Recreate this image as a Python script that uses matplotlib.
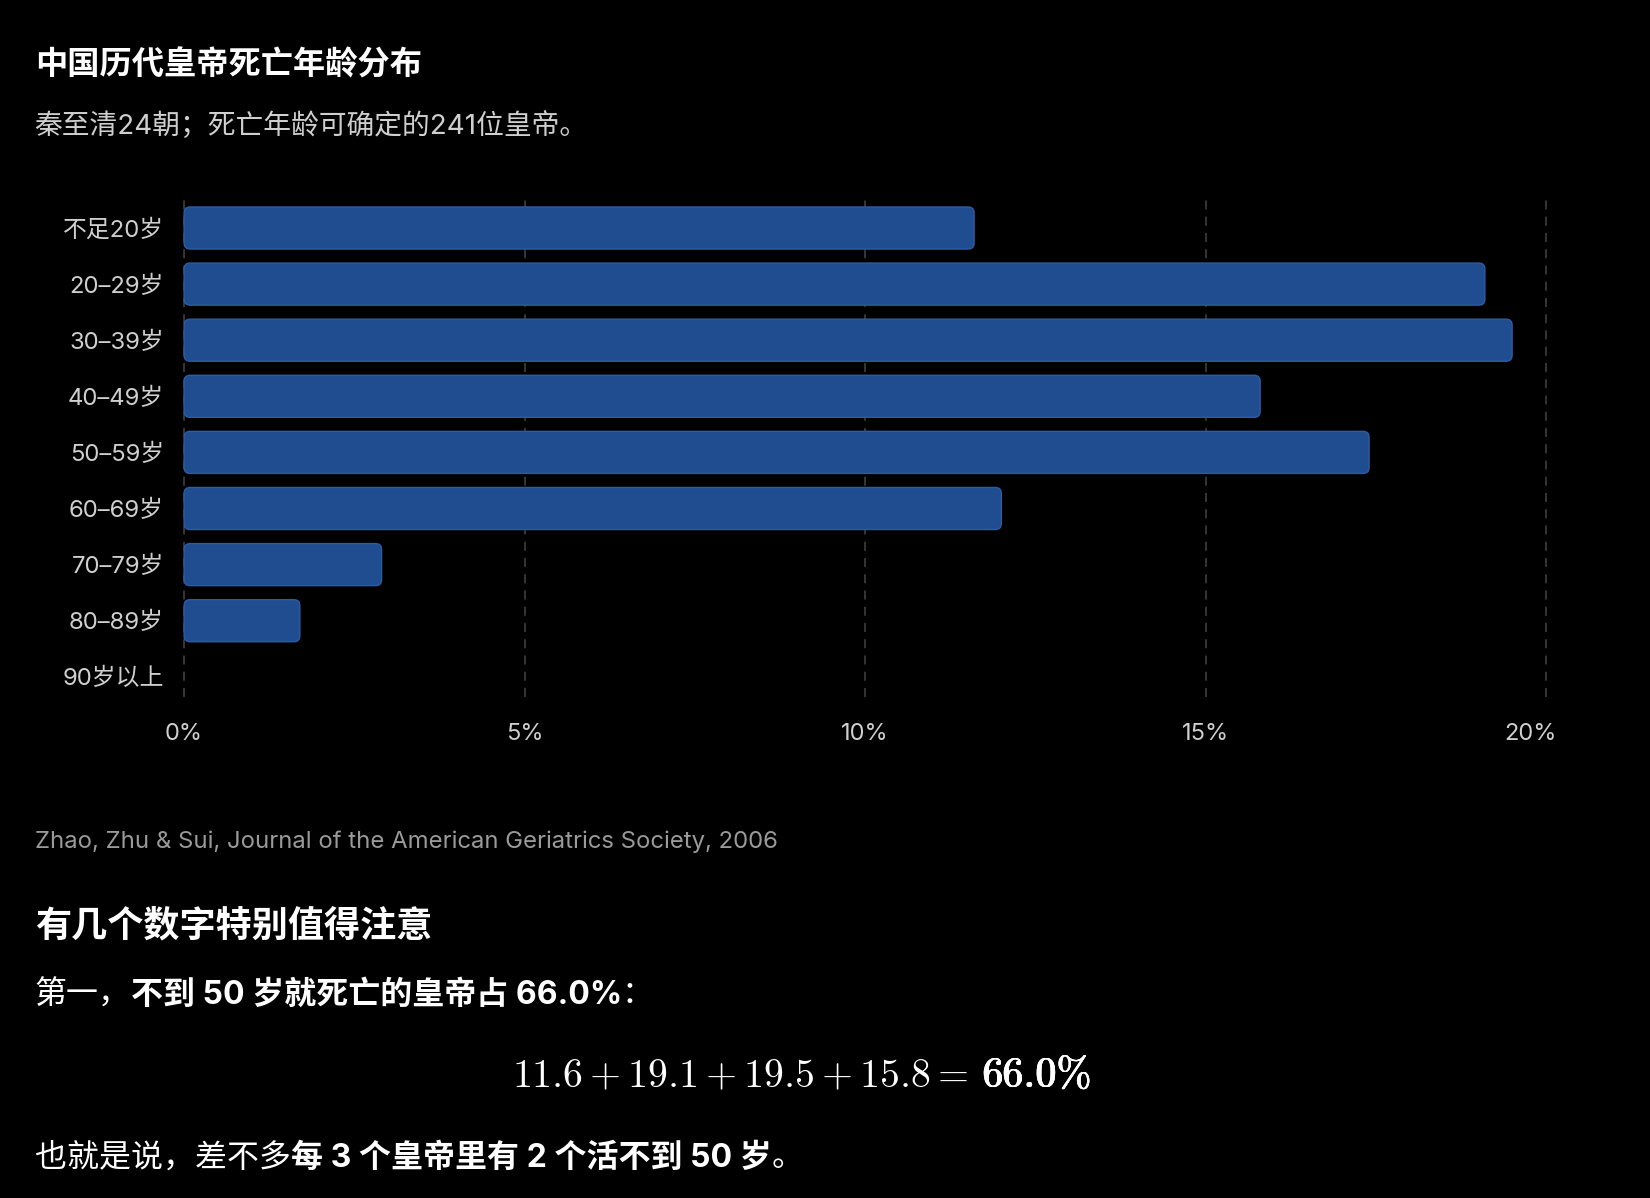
import matplotlib
matplotlib.use("Agg")
import matplotlib.pyplot as plt
from matplotlib.patches import FancyBboxPatch
from matplotlib.text import Annotation
from matplotlib.transforms import ScaledTranslation

plt.rcParams['font.family'] = ['Inter', 'Noto Sans CJK SC', 'DejaVu Sans']
plt.rcParams['mathtext.fontset'] = 'cm'

# data
age_groups = ['不足20岁', '20–29岁', '30–39岁', '40–49岁', '50–59岁',
              '60–69岁', '70–79岁', '80–89岁', '90岁以上']
shares = [11.6, 19.1, 19.5, 15.8, 17.4, 12.0, 2.9, 1.7, 0.0]
x_ticks = [0, 5, 10, 15, 20]
x_tick_labels = ['0%', '5%', '10%', '15%', '20%']

title = '中国历代皇帝死亡年龄分布'
subtitle = '秦至清24朝；死亡年龄可确定的241位皇帝。'
source = 'Zhao, Zhu & Sui, Journal of the American Geriatrics Society, 2006'
heading = '有几个数字特别值得注意'
line1 = [('第一，', 'normal'), ('不到 50 岁就死亡的皇帝占 66.0%', 'bold'), ('：', 'normal')]
eq_left = r'$11.6 + 19.1 + 19.5 + 15.8 =$'
eq_right = r'$\mathbf{66.0\%}$'
line2 = [('也就是说，差不多', 'normal'), ('每 3 个皇帝里有 2 个活不到 50 岁', 'bold'), ('。', 'normal')]

bg = '#000000'
bar_color = '#1f4d8f'
bar_edge = '#2c5ca3'

fig = plt.figure(figsize=(16.5, 11.98), dpi=100, facecolor=bg)
ax = fig.add_axes([0.1095, 0.4182, 0.8317, 0.4149], facecolor=bg)

y = list(range(len(age_groups)))
bars = ax.barh(y, shares, height=0.75, color=bar_color)
ax.set_xlim(-0.05, 20.1)
ax.set_ylim(8.36, -0.5)

# swap the plain bars for rounded ones (corner ~6px)
aspect = 68.1 / 56.1
for b in bars:
    x0, y0 = b.get_x(), b.get_y()
    w, h = b.get_width(), b.get_height()
    b.set_visible(False)
    if w <= 0:
        continue
    ax.add_patch(FancyBboxPatch((x0, y0), w, h,
                                boxstyle='round,pad=0,rounding_size=0.088',
                                mutation_aspect=aspect,
                                facecolor=bar_color, edgecolor=bar_edge,
                                linewidth=1.0, zorder=3))

for t in x_ticks:
    ax.axvline(t, color='#3a3a3a', linestyle=(0, (5, 4)), linewidth=1.3, zorder=1)

ax.set_yticks(y)
ax.set_yticklabels(age_groups)
ax.set_xticks(x_ticks)
ax.set_xticklabels(x_tick_labels)
ax.tick_params(axis='y', length=0, pad=12, labelsize=17.2, labelcolor='#cfcfcf')
ax.tick_params(axis='x', length=0, pad=19, labelsize=17, labelcolor='#cfcfcf')
for s in ax.spines.values():
    s.set_visible(False)

lab = ax.get_xticklabels()[-1]
lab.set_transform(lab.get_transform() + ScaledTranslation(-0.16, 0, fig.dpi_scale_trans))

left = 0.021
fig.text(left, 0.9450, title, color='white', fontsize=23.2, fontweight='bold', va='center')
fig.text(left, 0.8940, subtitle, color='#cfcfcf', fontsize=20, va='center')
fig.text(left, 0.2972, source, color='#9a9a9a', fontsize=17.2, va='center')
fig.text(left, 0.2270, heading, color='white', fontsize=26, fontweight='bold', va='center')


def chain(parts, ypos, size):
    prev = fig.text(left, ypos, parts[0][0], color='white', fontsize=size,
                    fontweight=parts[0][1], va='center')
    for txt, wt in parts[1:]:
        prev = fig.add_artist(Annotation(
            txt, xy=(1, 0), xycoords=prev, va='bottom', ha='left',
            color='white', fontsize=size, fontweight=wt))


chain(line1, 0.1695, 23)
fig.text(0.5867, 0.0927, eq_left, color='white', fontsize=28.7, ha='right', va='baseline')
# bold part: computer-modern bold, drawn a few times with sub-pixel shifts to thicken it
for dx in (-0.007, -0.0035, 0.0, 0.0035, 0.007):
    t = fig.text(0.5950, 0.0927, eq_right, color='white', fontsize=30, ha='left', va='baseline')
    t.set_transform(fig.transFigure + ScaledTranslation(dx, 0, fig.dpi_scale_trans))
chain(line2, 0.0334, 23)

fig.savefig('out.png', dpi=100, facecolor=bg)
